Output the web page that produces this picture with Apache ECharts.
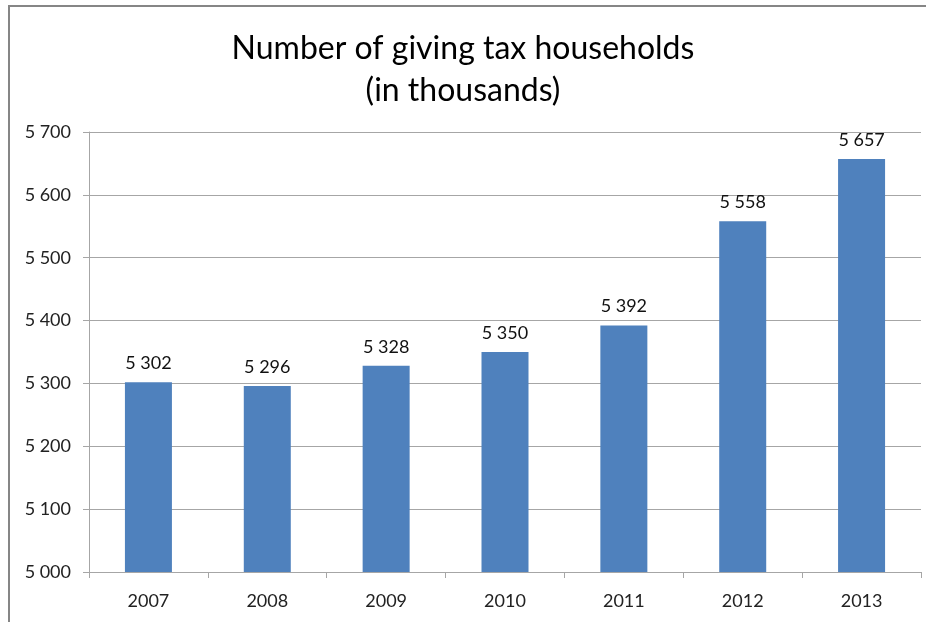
<!DOCTYPE html>
<html>
<head>
<meta charset="utf-8">
<script src="https://cdn.jsdelivr.net/npm/echarts@6/dist/echarts.min.js"></script>
<style>
  html, body { margin: 0; padding: 0; background: #fff; }
  #chart { width: 926px; height: 622px; }
</style>
</head>
<body>
<div id="chart"></div>
<script>
const years = ['2007', '2008', '2009', '2010', '2011', '2012', '2013']
const households = [5302, 5296, 5328, 5350, 5392, 5558, 5657]
const titleLines = ['Number of giving tax households', '(in thousands)']

// thousands with a space, like "5 302"
function fmt(v) {
  return String(v).replace(/\B(?=(\d{3})+(?!\d))/g, ' ')
}

const chart = echarts.init(document.getElementById('chart'))
const gridColor = '#a6a6a6'

chart.setOption({
  animation: false,
  textStyle: { fontFamily: 'Lato' },
  title: {
    text: titleLines.join('\n'),
    left: 'center',
    top: 23,
    textStyle: {
      fontFamily: 'Lato',
      fontSize: 32,
      fontWeight: 'normal',
      color: '#000',
      lineHeight: 42
    }
  },
  graphic: [{
    type: 'rect',
    shape: { x: 9, y: 6, width: 2000, height: 2000 },
    style: { fill: 'none', stroke: '#868686', lineWidth: 2 },
    silent: true
  }],
  grid: { left: 89, right: 5, top: 132, bottom: 50 },
  xAxis: {
    type: 'category',
    data: years,
    axisLine: { lineStyle: { color: gridColor } },
    axisTick: { show: true, length: 6, lineStyle: { color: gridColor } },
    axisLabel: { color: '#222', fontSize: 18, margin: 20 }
  },
  yAxis: {
    type: 'value',
    min: 5000,
    max: 5700,
    interval: 100,
    axisLine: { show: true, lineStyle: { color: gridColor } },
    axisTick: { show: true, length: 6, lineStyle: { color: gridColor } },
    splitLine: { lineStyle: { color: gridColor } },
    axisLabel: { color: '#222', fontSize: 18, margin: 18, formatter: fmt }
  },
  series: [{
    type: 'bar',
    data: households,
    barWidth: 47,
    itemStyle: { color: '#4f81bd' },
    label: {
      show: true,
      position: 'top',
      distance: 10,
      color: '#111',
      fontSize: 18,
      formatter: p => fmt(p.value)
    }
  }]
})
</script>
</body>
</html>
